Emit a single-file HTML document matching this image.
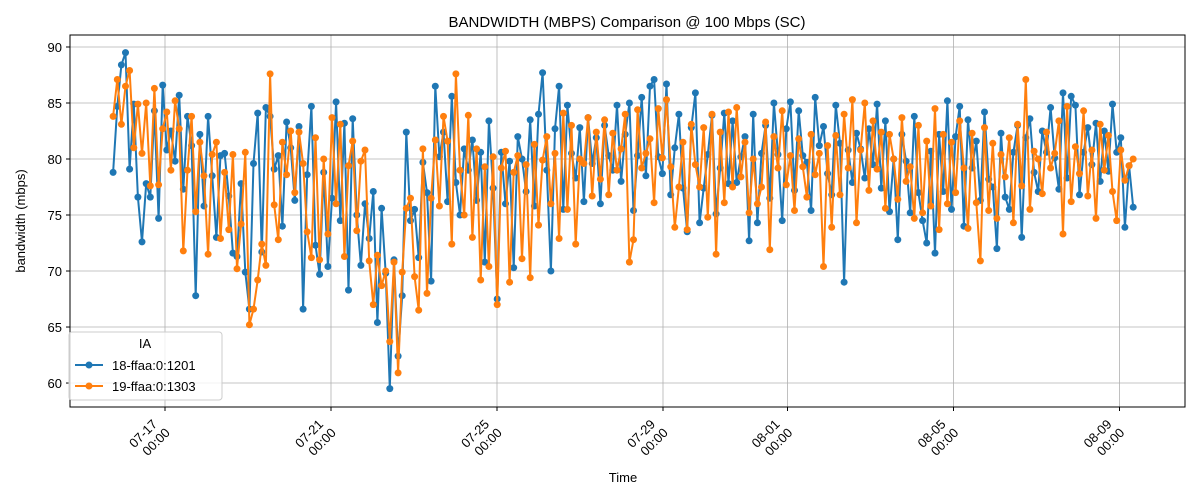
<!DOCTYPE html>
<html><head><meta charset="utf-8">
<style>
html,body{margin:0;padding:0;background:#fff;}
svg{display:block;font-family:"Liberation Sans",sans-serif;}
</style></head>
<body>
<svg id="chart" width="1200" height="500" viewBox="0 0 1200 500" xmlns="http://www.w3.org/2000/svg"></svg>
<script>
const seriesNames = ["18-ffaa:0:1201","19-ffaa:0:1303"];
const seriesColors = ["#1f77b4","#ff7f0e"];
// time range in days relative to 07-17 00:00
const startDay = -1.25, endDay = 23.33;
const yTicks = [60,65,70,75,80,85,90];
const xTickDays = [0,4,8,12,15,19,23];
const xTickLabels = [["07-17","00:00"],["07-21","00:00"],["07-25","00:00"],["07-29","00:00"],["08-01","00:00"],["08-05","00:00"],["08-09","00:00"]];
const blueValues = [78.8,84.7,88.4,89.5,79.1,84.9,76.6,72.6,77.8,76.6,
84.3,74.7,86.6,80.8,82.5,79.8,85.7,77.3,83.8,81.2,
67.8,82.2,75.8,83.8,78.5,73.0,80.3,80.5,76.7,71.6,
71.3,77.8,69.9,66.6,79.6,84.1,71.7,84.6,83.8,79.1,
80.3,74.0,83.3,81.0,76.3,82.9,66.6,78.6,84.7,72.3,
69.7,78.8,70.4,76.5,85.1,74.5,83.2,68.3,83.6,75.0,
70.5,76.0,72.9,77.1,65.4,75.6,69.8,59.5,71.0,62.4,
67.8,82.4,74.5,75.5,71.2,79.7,77.0,69.1,86.5,80.2,
82.4,76.2,85.6,77.9,75.0,80.9,79.0,81.7,76.3,80.6,
70.8,83.4,77.4,67.5,80.6,76.0,79.8,70.3,82.0,80.0,
77.1,83.5,75.8,84.0,87.7,79.0,70.0,82.7,86.5,75.5,
84.8,80.5,78.3,82.8,76.2,83.7,79.6,81.9,76.0,83.0,
80.3,79.0,84.8,78.0,82.2,85.0,75.4,80.3,85.5,78.5,
86.5,87.1,80.2,78.7,86.7,76.8,81.0,84.0,77.4,73.5,
82.8,85.9,74.3,77.4,80.4,83.9,75.1,79.2,84.1,77.8,
83.4,77.9,80.2,82.0,72.7,84.0,74.3,80.5,83.0,76.5,
85.0,80.4,74.5,82.7,85.1,77.2,84.3,80.3,79.7,75.4,
85.5,81.2,82.9,78.7,76.8,84.8,81.4,69.0,80.8,77.9,
82.3,80.9,78.3,82.7,79.5,84.9,77.4,83.4,75.3,80.0,
72.8,82.2,79.8,75.2,83.8,77.0,74.5,72.5,80.7,71.6,
82.2,77.1,85.2,75.5,82.0,84.7,74.0,83.5,79.2,81.6,
76.3,84.2,78.2,77.5,72.0,82.3,76.6,75.5,80.6,83.0,
73.0,81.9,83.6,78.8,77.1,82.5,80.6,84.6,80.1,77.3,
85.9,78.3,85.6,84.8,76.8,80.6,82.8,79.5,83.2,78.0,
82.5,78.9,84.9,80.6,81.9,73.9,79.4,75.7];
const orangeValues = [83.8,87.1,83.1,86.5,87.9,81.0,84.9,80.5,85.0,77.6,
86.3,77.7,82.7,84.2,79.0,85.2,82.7,71.8,79.0,83.8,
75.3,81.5,78.5,71.5,80.4,81.5,72.9,78.8,73.7,80.4,
70.2,74.2,80.6,65.2,66.6,69.2,72.4,70.5,87.6,75.9,
72.8,81.5,78.6,82.5,77.0,82.4,79.6,73.5,71.2,81.9,
71.0,80.0,73.3,83.7,76.0,83.1,71.3,79.4,81.6,73.6,
79.8,80.8,70.9,67.0,71.4,68.7,70.0,63.7,70.8,60.9,
69.9,75.6,76.5,69.5,66.5,80.9,68.0,76.5,81.7,75.8,
83.8,81.6,72.4,87.6,79.0,75.0,83.9,73.0,80.9,69.2,
79.3,70.4,80.2,67.0,79.2,80.7,69.0,78.8,80.3,71.1,
79.5,69.4,81.3,74.1,79.9,82.0,76.0,80.5,72.9,84.1,
75.5,83.0,72.4,80.0,79.6,83.7,76.7,82.4,78.2,83.5,
76.8,82.3,79.0,80.9,84.0,70.8,72.8,84.4,79.2,80.5,
81.8,76.1,84.5,80.1,85.3,79.3,73.9,77.5,81.5,73.7,
83.1,79.5,77.5,82.8,74.8,84.0,71.5,82.4,76.1,84.2,
77.5,84.6,78.4,81.5,75.2,80.0,76.0,77.5,83.3,71.9,
82.0,79.2,84.3,77.7,80.3,75.4,81.8,79.3,76.6,82.2,
78.6,80.5,70.4,81.2,73.9,82.1,76.8,84.0,79.2,85.3,
74.3,80.8,85.0,77.2,83.4,79.1,82.4,75.6,82.2,80.0,
76.4,83.7,78.0,79.3,74.7,83.0,75.2,81.6,75.8,84.5,
73.7,82.2,76.0,81.5,77.0,83.4,79.2,73.8,82.3,76.1,
70.9,82.8,75.4,81.4,74.7,80.4,78.4,81.9,74.3,83.1,
77.6,87.1,75.5,80.7,80.0,76.9,82.4,79.2,80.5,83.4,
73.3,84.7,76.2,81.1,78.7,84.3,76.7,80.8,74.7,83.1,
79.0,82.1,77.1,74.5,80.8,78.1,79.4,80.0];

const NS="http://www.w3.org/2000/svg";
const svg=document.getElementById('chart');
const L=70,R=1185,T=35,B=407;
const yMin=57.86,yMax=91.07;
function xs(d){return 165+d*41.5;}
function ys(v){return B-(v-yMin)/(yMax-yMin)*(B-T);}
function mk(tag,attrs,parent){const e=document.createElementNS(NS,tag);for(const k in attrs)e.setAttribute(k,attrs[k]);(parent||svg).appendChild(e);return e;}

const grid=mk('g',{});


yTicks.forEach(v=>{mk('line',{x1:L,x2:R,y1:ys(v),y2:ys(v),stroke:'#b0b0b0','stroke-width':0.8},grid);});
xTickDays.forEach(d=>{mk('line',{x1:xs(d),x2:xs(d),y1:T,y2:B,stroke:'#b0b0b0','stroke-width':0.8},grid);});

const clipDef=mk('defs',{});
const cp=mk('clipPath',{id:'plotclip'},clipDef);
mk('rect',{x:L,y:T,width:R-L,height:B-T},cp);
[blueValues,orangeValues].forEach((vals,si)=>{
  const g=mk('g',{'clip-path':'url(#plotclip)'});
  
  
  const n=vals.length;
  const pts=vals.map((v,i)=>{const d=startDay+i*(endDay-startDay)/(n-1);return [xs(d),ys(v)];});
  const ln=mk('polyline',{points:pts.map(p=>p[0].toFixed(1)+','+p[1].toFixed(1)).join(' '),fill:'none',stroke:seriesColors[si],'stroke-width':2,'stroke-linejoin':'round'},g);
  
  
  pts.forEach(p=>{
    const c=mk('circle',{cx:p[0].toFixed(1),cy:p[1].toFixed(1),r:3.5,fill:seriesColors[si]},g);
    
    
  });
});

mk('rect',{x:L,y:T,width:R-L,height:B-T,fill:'none',stroke:'#000','stroke-width':1});

yTicks.forEach(v=>{
  mk('line',{x1:L-4,x2:L,y1:ys(v),y2:ys(v),stroke:'#000'});
  const t=mk('text',{x:L-8,y:ys(v)+5,'text-anchor':'end','font-size':13,fill:'#000'});
  t.textContent=v;
  
  
});
xTickDays.forEach((d,i)=>{
  const x=xs(d);
  mk('line',{x1:x,x2:x,y1:B,y2:B+4,stroke:'#000'});
  const t=mk('text',{transform:`translate(${x-7},${B+18}) rotate(-45)`,'text-anchor':'end','font-size':13,fill:'#000'});
  
  
  const a=mk('tspan',{x:0,dy:0},t);a.textContent=xTickLabels[i][0];
  const b=mk('tspan',{x:3,dy:15},t);b.textContent=xTickLabels[i][1];
});
</script>
<svg style="position:absolute;left:0;top:0" width="1200" height="500">
  <text x="627" y="27" text-anchor="middle" font-size="15" font-family="Liberation Sans, sans-serif">BANDWIDTH (MBPS) Comparison @ 100 Mbps (SC)</text>
  <text x="623" y="482" text-anchor="middle" font-size="13" font-family="Liberation Sans, sans-serif">Time</text>
  <text transform="translate(25,221) rotate(-90)" text-anchor="middle" font-size="13" font-family="Liberation Sans, sans-serif">bandwidth (mbps)</text>
  <g font-family="Liberation Sans, sans-serif" font-size="13">
    <rect x="69" y="332" width="153" height="68" rx="3" fill="#fff" fill-opacity="0.8" stroke="#ccc"/>
    <text x="145" y="348" text-anchor="middle">IA</text>
    <g>
      <line x1="75" x2="103" y1="365" y2="365" stroke="#1f77b4" stroke-width="2"/>
      <circle cx="89" cy="365" r="3.5" fill="#1f77b4"/>
      <text x="112" y="370">18-ffaa:0:1201</text>
    </g>
    <g>
      <line x1="75" x2="103" y1="386" y2="386" stroke="#ff7f0e" stroke-width="2"/>
      <circle cx="89" cy="386" r="3.5" fill="#ff7f0e"/>
      <text x="112" y="391">19-ffaa:0:1303</text>
    </g>
  </g>
</svg>
</body></html>
